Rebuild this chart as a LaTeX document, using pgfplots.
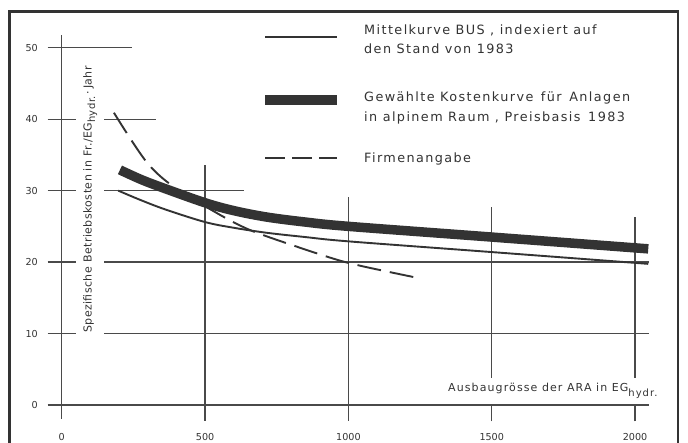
\documentclass[border=0pt]{standalone}
\usepackage{pgfplots}
\pgfplotsset{compat=1.18}
\usepackage{fontspec}
\setmainfont{DejaVu Sans}
\newfontfamily\legfont[LetterSpace=11]{DejaVu Sans}
\newfontfamily\labfont[LetterSpace=10]{DejaVu Sans}
\newfontfamily\ylabfont[LetterSpace=4]{DejaVu Sans}
\definecolor{ink}{HTML}{333333}
\definecolor{gridc}{HTML}{4A4A4A}

\pgfplotstableread{
x y
197 30.0
280 28.6
366 27.3
500 25.6
600 24.8
715 24.1
850 23.5
1000 22.9
1500 21.4
2046 19.75
}\bus

\pgfplotstableread{
x y
203 32.9
280 31.5
366 30.2
500 28.3
600 27.2
715 26.3
850 25.6
1000 25.0
1500 23.5
2046 21.85
}\gewaehlt

\pgfplotstableread{
x y
182 40.9
296 34.0
395 30.4
535 27.0
628 25.0
715 23.6
930 20.7
1040 19.5
1240 17.8
}\firma

\begin{document}
\begin{tikzpicture}[x=1pt,y=1pt]
\useasboundingbox (0,0) rectangle (688,443);
\begin{axis}[
 scale only axis, width=602pt, height=385.9pt,
 at={(47.4pt,23.7pt)}, anchor=south west,
 xmin=-50, xmax=2050, ymin=-2, ymax=52,
 axis line style={draw=none},
 major tick length=0pt,
 xtick={0,500,1000,1500,2000},
 ytick={0,10,20,30,40,50},
 /pgf/number format/assume math mode=true,
 /pgf/number format/set thousands separator={},
 tick label style={font=\fontsize{9.6}{11}\selectfont, text=ink, inner sep=0pt},
 xticklabel style={anchor=center, yshift=-17.4pt},
 yticklabel style={anchor=east, xshift=-9.4pt},
 clip=false,
]
% axes and grid segments
\begin{scope}[gridc, line width=1.3pt]
\draw (-49,0) -- (2048,0);
\draw (0,-1.9) -- (0,51.8);
\draw (-49,50) -- (245,50);
\draw (-49,40) -- (50,40); \draw (148,40) -- (329,40);
\draw (-49,30) -- (50,30); \draw (148,30) -- (635,30);
\draw (-49,20) -- (50,20); \draw (148,20) -- (2048,20);
\draw (-49,10) -- (50,10); \draw (148,10) -- (2048,10);
\draw (500,-2.2) -- (500,33.6);
\draw (1000,-2.2) -- (1000,29.1);
\draw (1500,-2.3) -- (1500,0); \draw (1500,3.8) -- (1500,27.7);
\draw (2000,-2.3) -- (2000,0); \draw (2000,3.8) -- (2000,26.3);
\end{scope}
\addplot[ink, line width=1.9pt, smooth, tension=0.55, line join=round] table {\bus};
\addplot[ink, line width=9.5pt, smooth, tension=0.55, line join=round] table {\gewaehlt};
\addplot[ink, line width=1.9pt, smooth, tension=0.55, line join=round, dash pattern=on 24pt off 9pt] table {\firma};
\end{axis}
% frame
\draw[ink, line width=2.2pt] (9.5,-10) rectangle (678,431.5);
% axis labels
\node[rotate=90, anchor=base west, inner sep=0pt, text=ink, font=\ylabfont\fontsize{11}{13}\selectfont] at (91.7,110)
 {Spezifische Betriebskosten in Fr./EG\raisebox{-3.5pt}{\fontsize{10}{10}\selectfont hydr.}\,·\,Jahr};
\node[anchor=base west, inner sep=0pt, text=ink, font=\labfont\fontsize{11}{13}\selectfont] at (448,51.3)
 {Ausbaugrösse der ARA in EG\raisebox{-5pt}{\fontsize{10}{10}\selectfont hydr.}};
% legend
\draw[ink, line width=1.9pt] (265,406) -- (337,406);
\draw[ink, line width=10pt] (265,343) -- (337,343);
\draw[ink, line width=2pt, dash pattern=on 20pt off 7pt] (265,285) -- (337,285);
\begin{scope}[every node/.style={anchor=base west, inner sep=0pt, text=ink, font=\legfont\fontsize{12.8}{15}\selectfont}]
\node at (364,408) {Mittelkurve BUS , indexiert auf};
\node at (364,389.5) {den Stand von 1983};
\node at (364,341) {Gewählte Kostenkurve\, für\, Anlagen};
\node at (364,321) {in alpinem Raum , Preisbasis\, 1983};
\node at (364,280) {Firmenangabe};
\end{scope}
\end{tikzpicture}
\end{document}
